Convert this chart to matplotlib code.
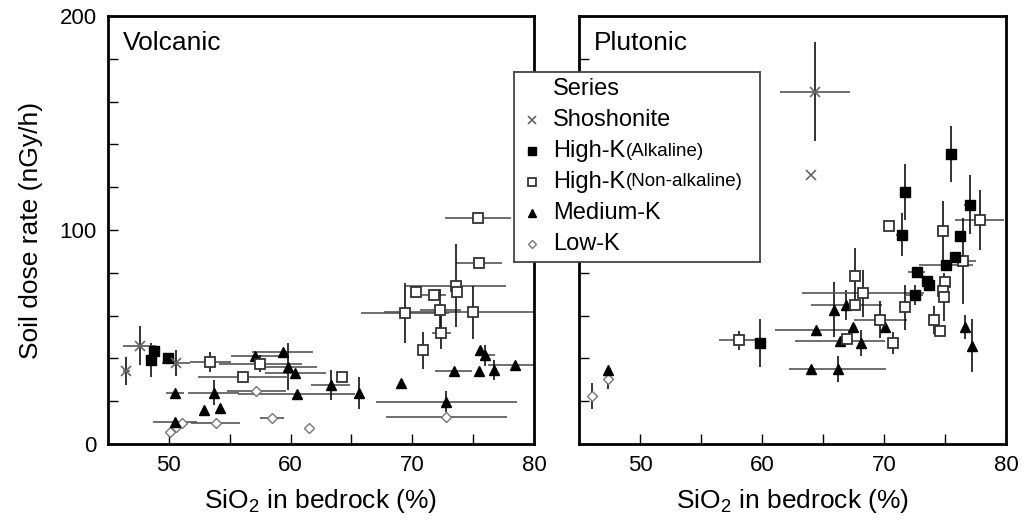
import numpy as np
import matplotlib
matplotlib.use('Agg')
import matplotlib.pyplot as plt

plt.rcParams['font.family'] = ['Liberation Sans', 'DejaVu Sans']
plt.rcParams['mathtext.fontset'] = 'custom'
plt.rcParams['mathtext.rm'] = 'Liberation Sans'
plt.rcParams['mathtext.default'] = 'regular'

# each point: (SiO2 %, dose rate nGy/h, x error, y error)
volc_shos = [(47.6, 46.0, 1.35, 9.0), (46.5, 34.2, 0.3, 6.5), (50.6, 37.8, 1.15, 6.0)]
volc_alk = [(48.75, 43.3, 0, 0), (48.55, 39.3, 0, 8.0), (49.95, 40.4, 0, 0)]
volc_nonalk = [
    (53.4, 38.3, 1.7, 4.5), (57.5, 37.5, 3.4, 4.0), (56.1, 31.1, 3.7, 0),
    (64.2, 31.1, 0, 0), (75.4, 105.4, 2.7, 0), (75.5, 84.6, 1.9, 0),
    (73.6, 74.0, 4.1, 19.5), (73.7, 71.0, 0, 0), (70.3, 71.0, 0, 0),
    (71.8, 69.5, 1.0, 0), (69.4, 61.2, 3.6, 14.0), (72.3, 62.4, 1.7, 10.0),
    (75.0, 61.5, 7.3, 12.5), (72.4, 52.1, 0.8, 7.5), (70.9, 43.7, 0, 8.6),
]
volc_med = [
    (50.5, 23.7, 0.75, 0), (53.7, 24.0, 2.1, 6.0), (52.9, 15.9, 0, 0),
    (54.2, 16.7, 0, 0), (50.5, 10.2, 1.8, 0), (57.1, 40.9, 2.0, 0),
    (59.35, 43.0, 2.5, 0), (59.8, 36.2, 2.4, 11.0), (60.4, 33.1, 2.5, 0),
    (60.5, 23.3, 4.8, 0), (63.3, 27.6, 1.6, 7.0), (65.6, 24.0, 0, 7.5),
    (75.6, 43.7, 0, 0), (76.0, 41.4, 0.8, 5.0), (78.4, 37.0, 2.2, 0),
    (76.7, 34.7, 0, 4.7), (75.5, 33.9, 0, 0), (73.4, 33.9, 1.5, 0),
    (69.1, 28.4, 0, 0), (72.8, 19.8, 5.8, 5.0),
]
volc_low = [
    (57.2, 24.7, 2.4, 0), (58.5, 12.2, 1.0, 0), (61.5, 7.6, 0, 0),
    (53.85, 10.0, 2.0, 0), (51.05, 9.7, 0, 0), (50.6, 8.0, 0, 0),
    (50.1, 5.5, 0, 0), (72.8, 12.8, 5.0, 0),
]

plut_shos = [(64.35, 164.7, 2.85, 23.0), (64.05, 125.7, 0, 0)]
plut_alk = [
    (59.85, 47.2, 0, 11.3), (75.5, 135.4, 0, 13.0), (71.7, 117.9, 0, 13.0),
    (71.45, 97.8, 0.5, 10.0), (77.05, 111.8, 0.5, 13.7), (76.2, 97.4, 0, 0),
    (75.85, 87.5, 0, 0), (75.1, 83.5, 2.2, 0), (72.7, 80.4, 0.7, 0),
    (73.55, 76.3, 0, 0), (73.7, 74.5, 0, 0), (72.5, 69.6, 0.7, 4.7),
]
plut_nonalk = [
    (58.15, 48.4, 1.7, 4.5), (70.4, 101.8, 0, 0), (77.85, 104.6, 2.0, 14.0),
    (74.8, 99.5, 0, 14.0), (76.5, 85.4, 1.0, 20.0), (75.0, 75.5, 0, 0),
    (74.8, 71.3, 0, 0), (74.9, 68.7, 0, 11.0), (67.6, 78.4, 0, 13.0),
    (68.3, 70.4, 5.0, 11.0), (67.6, 65.1, 0, 0), (71.7, 64.0, 0, 10.5),
    (69.7, 58.1, 2.2, 8.6), (74.1, 57.8, 0, 6.6), (74.6, 52.6, 0, 0),
    (67.0, 49.2, 0, 0), (70.75, 47.2, 0, 5.0),
]
plut_med = [
    (47.4, 34.7, 0, 0), (65.9, 62.8, 0, 13.0), (66.9, 64.8, 2.9, 7.0),
    (64.4, 53.4, 3.3, 0), (67.45, 54.6, 0, 0), (66.4, 47.9, 3.7, 0),
    (68.1, 47.1, 0, 6.0), (70.05, 54.6, 0, 0), (64.0, 35.1, 0, 0),
    (66.2, 35.1, 4.0, 6.0), (76.6, 54.7, 0, 5.5), (77.25, 46.0, 0, 12.5),
]
plut_low = [(46.05, 22.5, 0, 6.0), (47.4, 30.3, 0, 4.5)]

legend_labels = ['Shoshonite', 'High-K', 'High-K', 'Medium-K', 'Low-K']
legend_notes = ['', '(Alkaline)', '(Non-alkaline)', '', '']

STYLES = {
    'shos': dict(marker='x', ms=7, mec='#666666', mfc='none', mew=1.2),
    'alk': dict(marker='s', ms=7.2, mec='black', mfc='black', mew=1.0),
    'nonalk': dict(marker='s', ms=7.2, mec='#333333', mfc='white', mew=1.3),
    'med': dict(marker='^', ms=7.8, mec='black', mfc='black', mew=1.0),
    'low': dict(marker='D', ms=5, mec='#777777', mfc='white', mew=1.0),
}
ORDER = ['shos', 'alk', 'nonalk', 'med', 'low']


def draw(ax, series):
    for key, pts in series:
        a = np.array(pts, dtype=float)
        x, y, xe, ye = a.T
        ax.errorbar(x, y, xerr=xe, fmt='none', ecolor='#555555',
                    elinewidth=1.2, capsize=0, zorder=2)
        ax.errorbar(x, y, yerr=ye, fmt='none', ecolor='#111111',
                    elinewidth=1.2, capsize=0, zorder=2)
        ax.plot(x, y, ls='none', zorder=3, **STYLES[key])


fig = plt.figure(figsize=(10.24, 5.23), dpi=100)
ax1 = fig.add_axes([108 / 1024, 1 - 444 / 523, 426 / 1024, 428 / 523])
ax2 = fig.add_axes([579 / 1024, 1 - 444 / 523, 427 / 1024, 428 / 523])

draw(ax1, [('low', volc_low), ('med', volc_med), ('nonalk', volc_nonalk),
           ('alk', volc_alk), ('shos', volc_shos)])
draw(ax2, [('low', plut_low), ('med', plut_med), ('nonalk', plut_nonalk),
           ('alk', plut_alk), ('shos', plut_shos)])

for ax, title in [(ax1, 'Volcanic'), (ax2, 'Plutonic')]:
    ax.set_xlim(45, 80)
    ax.set_ylim(0, 200)
    ax.set_xticks([50, 60, 70, 80])
    ax.set_xticks([55, 65, 75], minor=True)
    ax.set_yticks([0, 100, 200])
    ax.set_yticks([20, 40, 60, 80, 120, 140, 160, 180], minor=True)
    ax.tick_params(which='both', direction='in', length=7, width=1,
                   top=False, right=False, labelsize=16, pad=8)
    for s in ax.spines.values():
        s.set_linewidth(2)
    ax.set_xlabel('SiO$_2$ in bedrock (%)', fontsize=19, labelpad=8)
    ax.text(0.035, 0.965, title, transform=ax.transAxes, fontsize=19,
            ha='left', va='top')

ax1.set_ylabel('Soil dose rate (nGy/h)', fontsize=19, labelpad=12)
ax2.tick_params(labelleft=False)

# legend box
lg = fig.add_axes([514 / 1024, 1 - 262 / 523, 246 / 1024, 190 / 523], zorder=10)
lg.set_xlim(0, 246)
lg.set_ylim(190, 0)
lg.set_xticks([])
lg.set_yticks([])
lg.set_facecolor('white')
for s in lg.spines.values():
    s.set_linewidth(1.3)
    s.set_color('#444444')

lg.text(39, 17, 'Series', fontsize=17, va='center', ha='left')
leg_ms = {'shos': 5.5, 'alk': 5.5, 'nonalk': 5.5, 'med': 6, 'low': 4}
renderer = fig.canvas.get_renderer()
for i, key in enumerate(ORDER):
    yy = 48 + 31 * i
    st = dict(STYLES[key])
    st['ms'] = leg_ms[key]
    lg.plot([18], [yy], ls='none', **st)
    t = lg.text(39, yy, legend_labels[i], fontsize=17, va='center', ha='left')
    if legend_notes[i]:
        bb = t.get_window_extent(renderer)
        x_end = lg.transData.inverted().transform((bb.x1, bb.y0))[0]
        lg.text(x_end + 1, yy, legend_notes[i], fontsize=13.5,
                va='center', ha='left')

fig.savefig('out.png', dpi=100)
